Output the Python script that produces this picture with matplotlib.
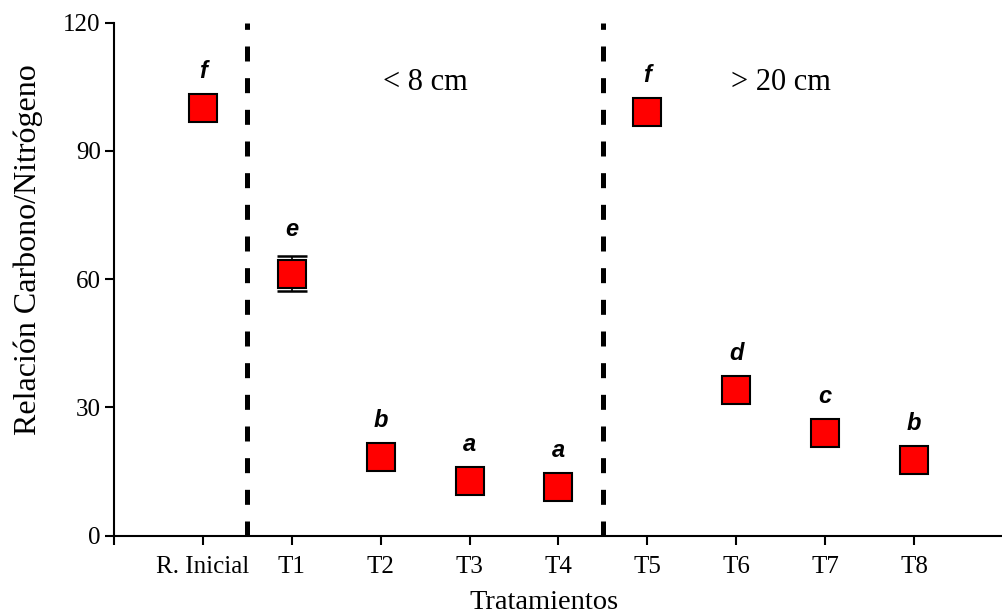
import numpy as np
import matplotlib
matplotlib.use("Agg")
import matplotlib.pyplot as plt

# relacion C/N por tratamiento
categorias = ["R. Inicial", "T1", "T2", "T3", "T4", "T5", "T6", "T7", "T8"]
relacion_cn = [100.0, 61.2, 18.4, 12.8, 11.4, 99.1, 34.1, 24.1, 17.6]
error_cn = [0, 4.1, 0, 0, 0, 0, 0, 0, 0]
letras = ["f", "e", "b", "a", "a", "f", "d", "c", "b"]
grupos = ["< 8 cm", "> 20 cm"]

plt.rcParams['font.family'] = ['Liberation Serif', 'DejaVu Serif']
plt.rcParams['lines.scale_dashes'] = False

fig = plt.figure(figsize=(10.03, 6.15), dpi=100)
ax = fig.add_axes([114/1003, 79.5/615, 889/1003, 512.8/615])

x = np.arange(1, len(categorias) + 1)
v = np.array(relacion_cn)
e = np.array(error_cn)

# barras de error solo donde hay
con_err = e > 0
ax.errorbar(x[con_err], v[con_err], yerr=e[con_err], fmt='none',
            ecolor='black', elinewidth=1.2, capsize=10.5, capthick=1.8, zorder=3)
ax.plot(x, v, 's', ms=20, mfc='#ff0000', mec='black', mew=1.5, zorder=4)

for xi, vi, ei, l in zip(x, v, e, letras):
    ax.text(xi, vi + max(ei + 4.7, 7.0), l, ha='center', va='baseline',
            family='Liberation Sans', weight='bold', style='italic', fontsize=17)

# separadores entre grupos
for xs in (1.5, 5.5):
    ax.axvline(xs, color='black', lw=3.6, ls=(0, (10.8, 12)), zorder=2)

ax.text(3.5, 105.9, grupos[0], ha='center', va='center', fontsize=22)
ax.text(7.5, 105.9, grupos[1], ha='center', va='center', fontsize=22)

ax.set_xlim(0, 10)
ax.set_ylim(0, 120)
ax.set_yticks([0, 30, 60, 90, 120])
ax.set_xticks(np.arange(0, len(categorias) + 1))
ax.set_xticklabels([""] + categorias)

for s in ('top', 'right'):
    ax.spines[s].set_visible(False)
for s in ('left', 'bottom'):
    ax.spines[s].set_linewidth(1.5)

ax.tick_params(axis='both', direction='out', length=6.5, width=1.5, labelsize=18)
ax.tick_params(axis='y', pad=3)
ax.tick_params(axis='x', pad=8)

ax.set_ylabel("Relación Carbono/Nitrógeno", fontsize=23)
ax.yaxis.set_label_coords(-0.08, 0.557)
ax.set_xlabel("Tratamientos", fontsize=20.5)
ax.xaxis.set_label_coords(0.484, -0.106)

fig.savefig("out.png", dpi=100)
